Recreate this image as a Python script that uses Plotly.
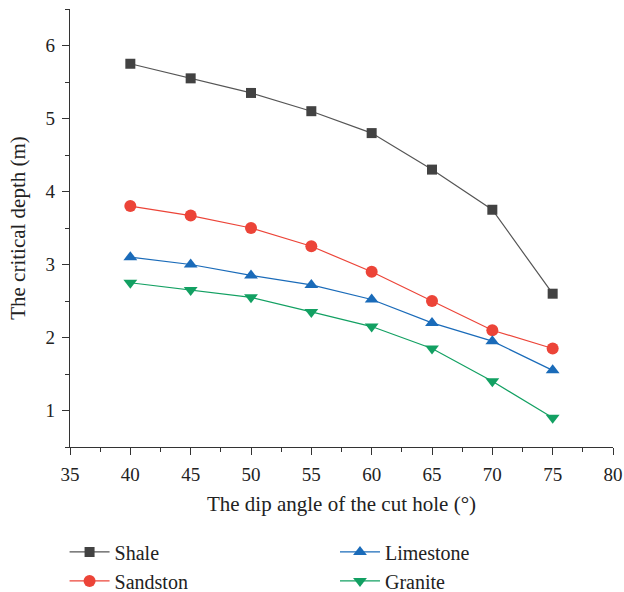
import plotly.graph_objects as go

angles = [40, 45, 50, 55, 60, 65, 70, 75]
shale = [5.75, 5.55, 5.35, 5.1, 4.8, 4.3, 3.75, 2.6]
sandston = [3.8, 3.67, 3.5, 3.25, 2.9, 2.5, 2.1, 1.85]
limestone = [3.1, 3.0, 2.85, 2.72, 2.52, 2.2, 1.95, 1.55]
granite = [2.75, 2.65, 2.55, 2.35, 2.15, 1.85, 1.4, 0.9]

FONT = "Liberation Serif"
FS = 19
FT = 21

fig = go.Figure()
series = [
    ("Shale", shale, "#424242", "#555555", "square", 10, "legend"),
    ("Sandston", sandston, "#EC4438", "#EC4438", "circle", 12, "legend"),
    ("Limestone", limestone, "#1A6BB9", "#1A6BB9", "triangle-up", 12, "legend2"),
    ("Granite", granite, "#12A062", "#12A062", "triangle-down", 12, "legend2"),
]
for name, vals, mcol, lcol, sym, size, leg in series:
    fig.add_trace(go.Scatter(
        x=angles, y=vals, name=name, mode="lines+markers",
        line=dict(color=lcol, width=1.2),
        marker=dict(symbol=sym, size=size, color=mcol, line=dict(width=0)),
        legend=leg,
    ))

axis_common = dict(
    showline=True, linecolor="#333333", linewidth=1.2,
    ticks="outside", ticklen=7, tickwidth=1.2, tickcolor="#333333",
    showgrid=False, zeroline=False,
    tickfont=dict(family=FONT, size=FS, color="#222222"),
    automargin=False, ticklabelstandoff=3,
)

fig.update_xaxes(
    range=[35, 80], dtick=5, tick0=35,
    title=dict(text="The dip angle of the cut hole (°)", font=dict(family=FONT, size=FT, color="#222222"), standoff=12),
    minor=dict(ticks="outside", ticklen=4, tickwidth=1.2, tickcolor="#333333", dtick=2.5, tick0=35),
    **axis_common,
)
fig.update_yaxes(
    range=[0.5, 6.5], dtick=1, tick0=1,
    title=dict(text="The critical depth (m)", font=dict(family=FONT, size=FT, color="#222222"), standoff=14),
    minor=dict(ticks="outside", ticklen=4, tickwidth=1.2, tickcolor="#333333", dtick=0.5, tick0=0.5),
    **axis_common,
)

legend_common = dict(
    font=dict(family=FONT, size=FT - 1, color="#222222"),
    bgcolor="rgba(0,0,0,0)", tracegroupgap=0, itemwidth=40,
    xanchor="left", yanchor="top", orientation="v",
)
fig.update_layout(
    width=624, height=592,
    margin=dict(l=70, r=11, t=9, b=145, autoexpand=False),
    paper_bgcolor="white", plot_bgcolor="white",
    legend=dict(x=-0.01, y=-0.195, **legend_common),
    legend2=dict(x=0.488, y=-0.195, **legend_common),
    showlegend=True,
)

fig.write_html(
    "out.html",
    config={"displayModeBar": False},
    post_script="document.body.style.margin='0';document.body.style.overflow='hidden';",
)
